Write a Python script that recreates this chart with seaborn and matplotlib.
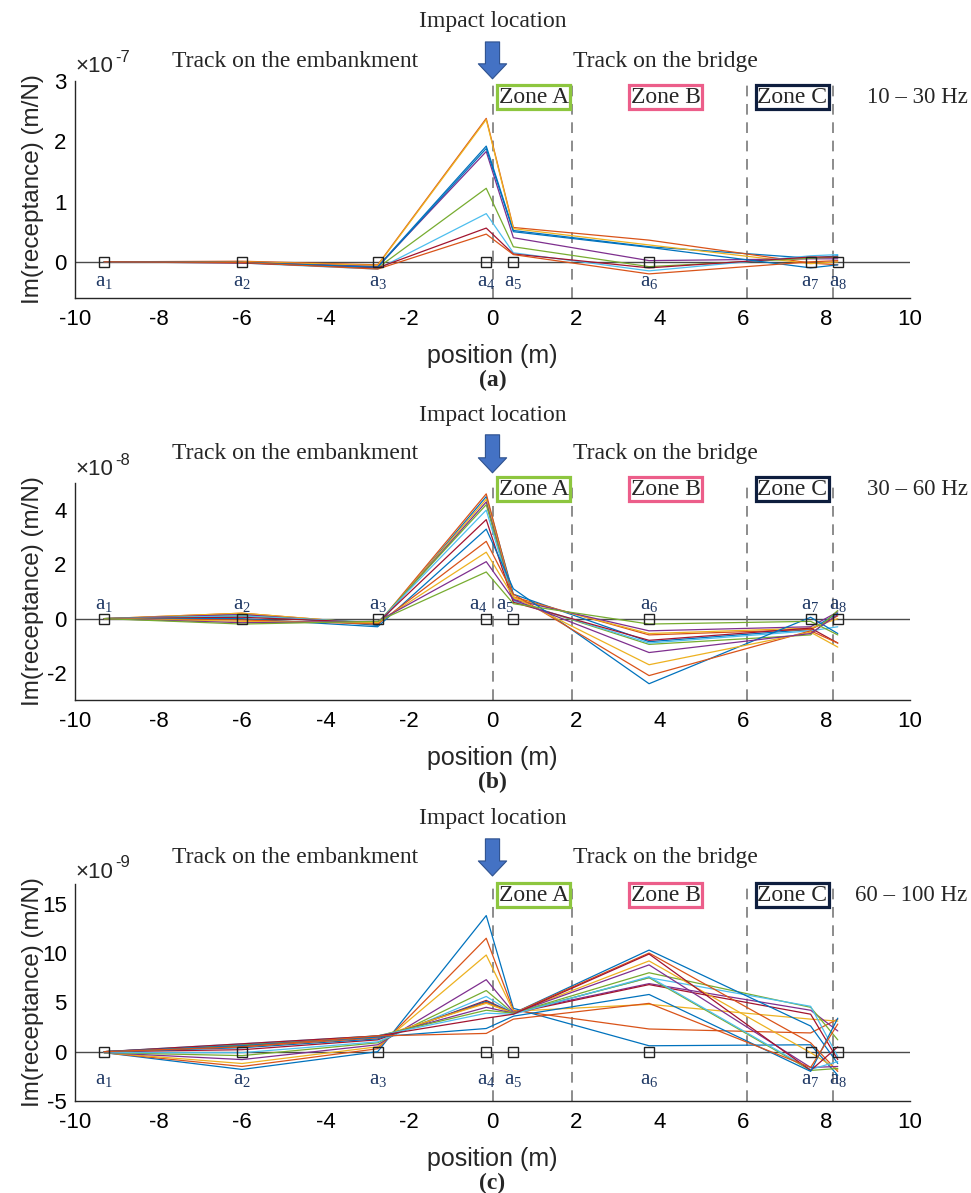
import numpy as np
import pandas as pd
import matplotlib
matplotlib.use("Agg")
import matplotlib.pyplot as plt
import matplotlib.transforms as mtransforms
import seaborn as sns

# sensor positions along the track (m) and their labels
positions = [-9.3, -6.0, -2.75, -0.15, 0.5, 3.75, 7.62, 8.27]
sensor_labels = ["a$_1$", "a$_2$", "a$_3$", "a$_4$", "a$_5$", "a$_6$", "a$_7$", "a$_8$"]

# transitions embankment/bridge and zone borders (m)
zone_edges = [0.0, 1.9, 6.1, 8.15]
zone_names = ["Zone A", "Zone B", "Zone C"]
zone_centres = [0.99, 4.15, 7.18]
zone_colors = ["#8DC63F", "#EC5E8A", "#0E1E3E"]

band_labels = ["10 – 30 Hz", "30 – 60 Hz", "60 – 100 Hz"]
panel_tags = ["(a)", "(b)", "(c)"]
exponents = ["-7", "-8", "-9"]

# Im(receptance) at a1..a8, one row per frequency, in units of 1e-7 m/N
resp_10_30 = [
    [0.00, 0.00, -0.08, 1.92, 0.52, 0.25, 0.06, 0.10],
    [0.00, 0.01, -0.05, 2.38, 0.57, 0.36, -0.02, -0.05],
    [0.00, 0.00, -0.06, 2.36, 0.55, 0.28, -0.03, 0.00],
    [0.00, -0.01, -0.08, 1.83, 0.40, 0.02, 0.05, 0.05],
    [0.00, -0.01, -0.10, 1.22, 0.25, -0.08, 0.06, 0.08],
    [0.00, -0.02, -0.12, 0.80, 0.15, -0.15, 0.10, 0.12],
    [0.00, -0.02, -0.10, 0.56, 0.13, -0.10, 0.08, 0.08],
    [0.00, -0.01, -0.09, 1.88, 0.50, 0.24, -0.10, -0.05],
    [0.00, -0.01, -0.12, 0.46, 0.12, -0.20, 0.00, 0.02],
]

# units of 1e-8 m/N
resp_30_60 = [
    [0.00, 0.15, -0.25, 4.50, 0.90, -0.85, -0.40, 0.20],
    [0.00, 0.20, -0.20, 4.60, 0.80, -0.60, -0.40, 0.10],
    [0.00, 0.20, -0.20, 4.40, 0.75, -0.55, -0.35, 0.00],
    [0.00, 0.15, -0.20, 4.30, 0.70, -0.45, -0.30, 0.25],
    [0.00, 0.10, -0.15, 4.20, 0.65, -0.95, -0.60, 0.30],
    [0.00, 0.10, -0.15, 4.00, 0.65, -0.90, -0.45, -0.30],
    [0.00, 0.05, -0.15, 3.65, 0.60, -0.80, -0.35, -0.90],
    [0.00, 0.00, -0.30, 3.30, 1.10, -2.40, 0.05, -0.55],
    [0.00, -0.05, -0.20, 2.85, 0.90, -2.10, -0.45, -0.90],
    [0.00, -0.10, -0.15, 2.45, 0.80, -1.70, -0.50, -1.05],
    [0.00, -0.15, -0.10, 2.10, 0.70, -1.25, -0.55, 0.15],
    [0.00, -0.20, -0.10, 1.72, 0.55, -0.20, -0.10, -0.60],
]

# units of 1e-9 m/N
resp_60_100 = [
    [-0.1, -1.8, 0.0, 13.8, 4.4, 0.6, 0.7, -2.4],
    [-0.1, -1.5, 0.3, 11.5, 4.2, 2.3, 1.9, 3.3],
    [-0.1, -1.2, 0.5, 9.8, 4.1, 4.8, 3.3, 3.1],
    [-0.1, -0.8, 0.7, 7.3, 4.0, 6.9, 4.2, 2.1],
    [-0.1, -0.4, 0.9, 6.2, 3.9, 8.0, 4.5, 1.2],
    [-0.1, -0.1, 1.0, 5.6, 3.9, 7.5, 4.6, -0.5],
    [0.0, 0.2, 1.2, 5.2, 3.9, 6.8, 3.8, -0.8],
    [0.0, 0.4, 1.3, 5.1, 3.9, 10.3, 2.6, -1.2],
    [0.0, 0.5, 1.4, 5.0, 3.9, 10.0, 0.9, -2.0],
    [0.0, 0.6, 1.5, 4.9, 3.9, 9.2, -0.1, -1.8],
    [0.0, 0.7, 1.5, 4.5, 3.9, 8.8, -1.6, -1.5],
    [0.0, 0.7, 1.6, 4.2, 3.9, 7.5, -1.9, -1.7],
    [0.0, 0.8, 1.6, 3.9, 3.8, 7.6, -1.8, -1.0],
    [0.0, 0.8, 1.6, 3.4, 3.8, 9.9, -1.9, 0.5],
    [0.0, 0.6, 1.5, 2.35, 3.6, 5.8, -2.0, 3.4],
    [0.0, 0.5, 1.6, 1.85, 3.3, 4.9, -1.6, 2.8],
]

y_limits = [(-0.6, 3), (-3, 5), (-5, 17)]
y_ticks = [[0, 1, 2, 3], [-2, 0, 2, 4], [-5, 0, 5, 10, 15]]

matlab_colors = ["#0072BD", "#D95319", "#EDB120", "#7E2F8E",
                 "#77AC30", "#4DBEEE", "#A2142F"]

SANS = ["Liberation Sans", "DejaVu Sans"]
SERIF = ["Liberation Serif", "DejaVu Serif"]

# axes-fraction heights of the annotations above each panel
layout = [
    dict(impact=1.272, track=1.092, tail=1.180, tip=1.010, zone=0.926, mult=1.065, lab=-14, dx45=0),
    dict(impact=1.313, track=1.134, tail=1.222, tip=1.047, zone=0.972, mult=1.060, lab=10, dx45=-6),
    dict(impact=1.304, track=1.120, tail=1.208, tip=1.037, zone=0.949, mult=1.055, lab=-20, dx45=0),
]


def to_long(resp):
    rows = []
    for i, series in enumerate(resp):
        for x, v in zip(positions, series):
            rows.append((i, x, v))
    return pd.DataFrame(rows, columns=["line", "position", "value"])


def draw_panel(fig, ax, resp, k):
    lay = layout[k]
    df = to_long(resp)
    pal = [matlab_colors[i % len(matlab_colors)] for i in range(len(resp))]
    sns.lineplot(data=df, x="position", y="value", hue="line", palette=pal,
                 sort=False, estimator=None, legend=False, lw=0.9, ax=ax)

    ax.axhline(0, color="#4a4a4a", lw=1.0, zorder=1)
    for xe in zone_edges:
        ax.axvline(xe, color="#6e6e6e", lw=1.1, ls=(0, (7, 5)), zorder=1)
    ax.plot(positions, [0] * len(positions), ls="none", marker="s", ms=7,
            mfc="none", mec="#222222", mew=1.0, zorder=5)

    for j, (x, lab) in enumerate(zip(positions, sensor_labels)):
        dx = lay["dx45"] if j in (3, 4) else 0
        ax.annotate(lab, xy=(x, 0), xytext=(dx, lay["lab"]), textcoords="offset points",
                    ha="center", va="center", fontsize=15, family=SERIF, color="#1F3864")

    ax.set_xlim(-10, 10)
    ax.set_ylim(*y_limits[k])
    ax.set_xticks(np.arange(-10, 11, 2))
    ax.set_yticks(y_ticks[k])
    ax.set_xlabel("")
    ax.set_ylabel("")
    ax.tick_params(direction="in", length=6, labelsize=16, width=0.9, colors="#262626")
    ax.tick_params(axis="x", pad=8)
    ax.tick_params(axis="y", pad=6)
    for lbl in ax.get_xticklabels() + ax.get_yticklabels():
        lbl.set_family(SANS)
        lbl.set_color("black")
    for s in ("top", "right"):
        ax.spines[s].set_visible(False)
    for s in ("left", "bottom"):
        ax.spines[s].set_color("#262626")
        ax.spines[s].set_linewidth(1.0)

    trans = mtransforms.blended_transform_factory(ax.transData, ax.transAxes)
    ax.text(0, lay["impact"], "Impact location", transform=trans, ha="center", va="center",
            fontsize=17, family=SERIF)
    ax.text(-4.74, lay["track"], "Track on the embankment", transform=trans, ha="center",
            va="center", fontsize=17, family=SERIF)
    ax.text(4.14, lay["track"], "Track on the bridge", transform=trans, ha="center",
            va="center", fontsize=17, family=SERIF)
    ax.annotate("", xy=(0, lay["tip"]), xytext=(0, lay["tail"]), xycoords=trans,
                textcoords=trans, annotation_clip=False,
                arrowprops=dict(arrowstyle="simple,head_length=0.9,head_width=1.7,tail_width=0.85",
                                fc="#4472C4", ec="#2F528F", lw=0.8, mutation_scale=12,
                                shrinkA=0, shrinkB=0))
    for name, xc, col in zip(zone_names, zone_centres, zone_colors):
        ax.text(xc, lay["zone"], name, transform=trans, ha="center", va="center",
                fontsize=17, family=SERIF, zorder=6,
                bbox=dict(boxstyle="square,pad=0.06", fc="white", ec=col, lw=2.3))
    ax.text(11.38, lay["zone"], band_labels[k], transform=trans, ha="right", va="center",
            fontsize=16.5, family=SERIF, clip_on=False)

    # MATLAB-style exponent label at the top of the y axis
    ax.text(0.0, lay["mult"], "×10", transform=ax.transAxes,
            ha="left", va="center", fontsize=16, family=SANS, color="#262626")
    sup = mtransforms.offset_copy(ax.transAxes, fig=fig, x=29, y=7, units="points")
    ax.text(0.0, lay["mult"], exponents[k], transform=sup,
            ha="left", va="center", fontsize=12, family=SANS, color="#262626")

    ax.text(0.5, -0.267, "position (m)", transform=ax.transAxes, ha="center", va="center",
            fontsize=18, family=SANS)
    ax.text(0.5, -0.378, panel_tags[k], transform=ax.transAxes, ha="center", va="center",
            fontsize=17, family=SERIF, fontweight="bold")
    ax.text(-0.0505, 0.5, "Im(receptance) (m/N)", transform=ax.transAxes, rotation=90,
            ha="center", va="center", fontsize=17.5, family=SANS)


def main():
    sns.set_style("white")
    plt.rcParams["font.family"] = SANS
    plt.rcParams["axes.unicode_minus"] = False
    plt.rcParams["mathtext.fontset"] = "custom"
    plt.rcParams["mathtext.rm"] = "Liberation Serif"
    plt.rcParams["mathtext.it"] = "Liberation Serif:italic"

    fig = plt.figure(figsize=(9.71, 11.93), dpi=100)
    left, width, height = 75 / 971, 835 / 971, 217 / 1193
    bottoms = [1 - 298 / 1193, 1 - 700 / 1193, 1 - 1101 / 1193]
    data = [resp_10_30, resp_30_60, resp_60_100]
    for k in range(3):
        ax = fig.add_axes([left, bottoms[k], width, height])
        draw_panel(fig, ax, data[k], k)
    fig.savefig("out.png", dpi=100, facecolor="white")
    plt.close(fig)


if __name__ == "__main__":
    main()
